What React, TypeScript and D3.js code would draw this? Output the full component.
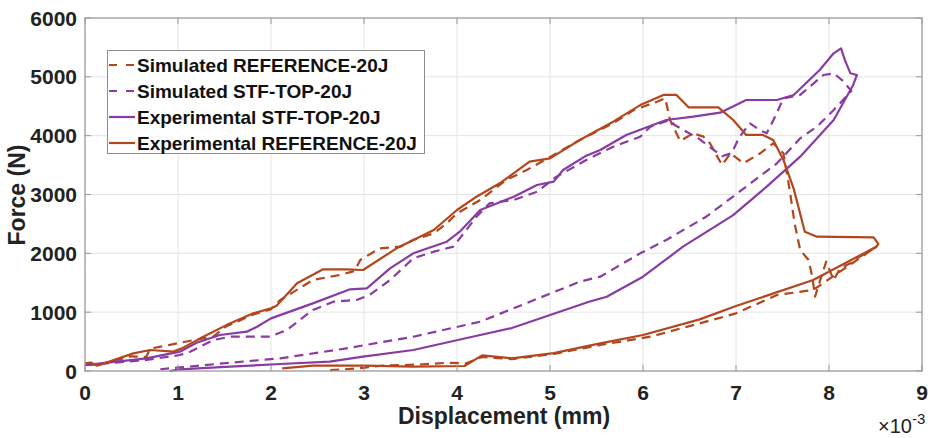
import React from "react";
import * as d3 from "d3";

// Displacement in units of 1e-3 mm, force in N
const expRef: [number, number][] = [
  [0, 130], [0.06, 145], [0.13, 90], [0.52, 300], [0.7, 357], [0.95, 330], [1.04, 385], [1.24, 555],
  [1.52, 780], [1.81, 980], [2.0, 1065], [2.06, 1110], [2.28, 1490], [2.56, 1728], [2.81, 1728],
  [2.99, 1717], [3.35, 2085], [3.75, 2397], [4.0, 2737], [4.21, 2963], [4.46, 3190], [4.78, 3558],
  [5.0, 3615], [5.32, 3927], [5.68, 4238], [5.97, 4520], [6.22, 4692], [6.36, 4692], [6.49, 4482],
  [6.81, 4482], [6.97, 4266], [7.11, 4012], [7.29, 4012], [7.4, 3927], [7.51, 3587], [7.62, 3100],
  [7.74, 2368], [7.87, 2283], [8.48, 2272], [8.53, 2159], [8.51, 2113], [7.83, 1547], [7.0, 1105],
  [6.61, 878], [6.0, 612], [5.54, 470], [5.04, 305], [4.59, 215], [4.27, 265], [4.08, 85],
  [3.53, 73], [3.0, 90], [2.45, 90], [2.12, 45],
];

const expStf: [number, number][] = [
  [0, 100], [0.66, 215], [1.02, 328], [1.2, 480], [1.45, 612], [1.74, 668], [1.85, 753], [2.0, 895],
  [2.45, 1150], [2.85, 1388], [3.03, 1405], [3.28, 1745], [3.53, 2000], [3.89, 2198], [4.03, 2368],
  [4.25, 2737], [4.46, 2870], [4.61, 2963], [4.86, 3162], [5.04, 3218], [5.14, 3417], [5.39, 3660],
  [5.54, 3757], [5.82, 4012], [6.25, 4266], [6.54, 4323], [6.83, 4391], [7.11, 4606], [7.44, 4606],
  [7.62, 4692], [7.9, 5117], [8.05, 5400], [8.13, 5485], [8.17, 5287], [8.23, 5060], [8.3, 5031],
  [8.26, 4862], [8.05, 4266], [7.69, 3643], [7.33, 3133], [6.97, 2650], [6.43, 2113], [6.0, 1603],
  [5.61, 1263], [5.42, 1178], [4.59, 730], [4.25, 612], [3.53, 357], [2.99, 243], [2.63, 158],
  [2.1, 119], [1.56, 73], [1.02, 29], [0.91, 0],
];

const simRef: [number, number][] = [
  [0, 130], [0.13, 100], [0.5, 250], [0.66, 240], [0.7, 380], [0.9, 440], [1.15, 520], [1.38, 583],
  [1.52, 760], [1.81, 960], [2.0, 1050], [2.1, 1207], [2.45, 1547], [2.74, 1632], [2.9, 1700],
  [2.96, 1887], [3.17, 2085], [3.39, 2113], [3.53, 2227], [3.75, 2340], [3.89, 2510], [4.0, 2680],
  [4.25, 2907], [4.53, 3247], [4.75, 3417], [5.04, 3672], [5.32, 3927], [5.68, 4210], [5.9, 4436],
  [6.15, 4578], [6.24, 4635], [6.29, 4266], [6.4, 3910], [6.54, 4040], [6.65, 3983], [6.72, 3870],
  [6.85, 3500], [6.94, 3700], [7.08, 3530], [7.26, 3700], [7.4, 3870], [7.51, 3700], [7.58, 3050],
  [7.63, 2510], [7.69, 2057], [7.78, 1887], [7.82, 1603], [7.85, 1263], [7.9, 1518], [7.97, 1858],
  [8.05, 1547], [8.12, 1745], [8.23, 1830], [8.33, 1943], [8.51, 2113], [7.83, 1377], [7.44, 1292],
  [7.0, 980], [6.61, 810], [6.08, 583], [5.54, 442], [5.04, 290], [4.59, 200], [4.27, 240],
  [4.1, 130], [3.9, 140], [3.6, 110], [3.2, 90], [2.9, 40], [2.6, 10],
];

const simStf: [number, number][] = [
  [0, 100], [0.66, 187], [1.02, 272], [1.13, 328], [1.38, 527], [1.56, 583], [1.88, 583], [1.99, 583],
  [2.17, 697], [2.45, 1037], [2.67, 1178], [2.92, 1207], [3.06, 1292], [3.28, 1547], [3.53, 1915],
  [3.75, 2028], [3.96, 2113], [4.1, 2397], [4.21, 2623], [4.35, 2850], [4.61, 2907], [4.86, 3048],
  [5.07, 3303], [5.39, 3587], [5.68, 3813], [5.97, 3983], [6.08, 4153], [6.29, 4266], [6.34, 4180],
  [6.6, 3950], [6.85, 3650], [6.95, 3700], [7.04, 3983], [7.15, 4210], [7.25, 4100], [7.33, 4040],
  [7.42, 4323], [7.51, 4635], [7.69, 4692], [7.94, 5031], [8.05, 5060], [8.15, 4930], [8.24, 4760],
  [8.05, 4436], [7.87, 4153], [7.69, 3955], [7.44, 3530], [7.11, 3133], [6.68, 2623], [6.25, 2227],
  [5.97, 2000], [5.54, 1603], [5.32, 1518], [4.25, 838], [3.53, 583], [2.81, 385], [2.1, 215],
  [1.56, 141], [1.02, 60], [0.81, 30],
];

const xTicks = [0, 1, 2, 3, 4, 5, 6, 7, 8, 9];
const yTicks = [0, 1000, 2000, 3000, 4000, 5000, 6000];

const BROWN = "#B3461C";
const PURPLE = "#8A3BA3";

const series = [
  { name: "Simulated REFERENCE-20J", data: simRef, color: BROWN, dashed: true },
  { name: "Simulated STF-TOP-20J", data: simStf, color: PURPLE, dashed: true },
  { name: "Experimental STF-TOP-20J", data: expStf, color: PURPLE, dashed: false },
  { name: "Experimental REFERENCE-20J", data: expRef, color: BROWN, dashed: false },
];

export default function App() {
  const W = 931, H = 438;
  const x = d3.scaleLinear().domain([0, 9]).range([85, 922]);
  const y = d3.scaleLinear().domain([0, 6000]).range([371, 18]);
  const line = d3.line<[number, number]>().x((d) => x(d[0])).y((d) => y(d[1]));
  const font = "'Liberation Sans', Arial, sans-serif";
  const axisColor = "#9a9a9a";
  const gridColor = "#e4e4e4";
  const [x0, x1] = x.range();
  const [y0, y1] = y.range();
  const legendRows = [65, 91, 117, 143];

  return (
    <div style={{ position: "absolute", left: 0, top: 0 }}>
      <svg width={W} height={H} style={{ display: "block", background: "#fff" }} fontFamily={font}>
        {/* grid */}
        {xTicks.slice(1, -1).map((t) => (
          <line key={"gx" + t} x1={x(t)} x2={x(t)} y1={y1} y2={y0} stroke={gridColor} strokeWidth={1} />
        ))}
        {yTicks.slice(1, -1).map((t) => (
          <line key={"gy" + t} x1={x0} x2={x1} y1={y(t)} y2={y(t)} stroke={gridColor} strokeWidth={1} />
        ))}
        {/* curves */}
        {series.map((s) => (
          <path
            key={s.name}
            d={line(s.data) || ""}
            fill="none"
            stroke={s.color}
            strokeWidth={2.2}
            strokeDasharray={s.dashed ? "9,6" : undefined}
            strokeLinejoin="round"
          />
        ))}
        {/* box */}
        <rect x={x0} y={y1} width={x1 - x0} height={y0 - y1} fill="none" stroke={axisColor} strokeWidth={1.3} />
        {/* ticks */}
        {xTicks.map((t) => (
          <g key={"tx" + t}>
            <line x1={x(t)} x2={x(t)} y1={y0} y2={y0 - 6} stroke={axisColor} />
            <line x1={x(t)} x2={x(t)} y1={y1} y2={y1 + 6} stroke={axisColor} />
            <text x={x(t)} y={400} textAnchor="middle" fontSize={21} fontWeight="bold" fill="#222">
              {t}
            </text>
          </g>
        ))}
        {yTicks.map((t) => (
          <g key={"ty" + t}>
            <line x1={x0} x2={x0 + 6} y1={y(t)} y2={y(t)} stroke={axisColor} />
            <line x1={x1} x2={x1 - 6} y1={y(t)} y2={y(t)} stroke={axisColor} />
            <text x={77} y={y(t) + 7.5} textAnchor="end" fontSize={21} fontWeight="bold" fill="#222">
              {t}
            </text>
          </g>
        ))}
        {/* axis labels */}
        <text x={504} y={424} textAnchor="middle" fontSize={23} fontWeight="bold" fill="#222">
          Displacement (mm)
        </text>
        <text
          transform="translate(25,195) rotate(-90)"
          textAnchor="middle"
          fontSize={23}
          fontWeight="bold"
          fill="#222"
        >
          Force (N)
        </text>
        <text x={878} y={433} fontSize={20} fill="#222">
          ×10
          <tspan dy={-9} fontSize={15}>-3</tspan>
        </text>
        {/* legend */}
        <rect x={107.5} y={50.5} width={317} height={103} fill="#fff" stroke="#8c8c8c" strokeWidth={1} />
        {series.map((s, i) => (
          <g key={"lg" + s.name}>
            <line
              x1={109}
              x2={135}
              y1={legendRows[i]}
              y2={legendRows[i]}
              stroke={s.color}
              strokeWidth={2.2}
              strokeDasharray={s.dashed ? "8,9" : undefined}
            />
            <text x={137} y={legendRows[i] + 7} fontSize={19} fontWeight="bold" fill="#111">
              {s.name}
            </text>
          </g>
        ))}
      </svg>
    </div>
  );
}
